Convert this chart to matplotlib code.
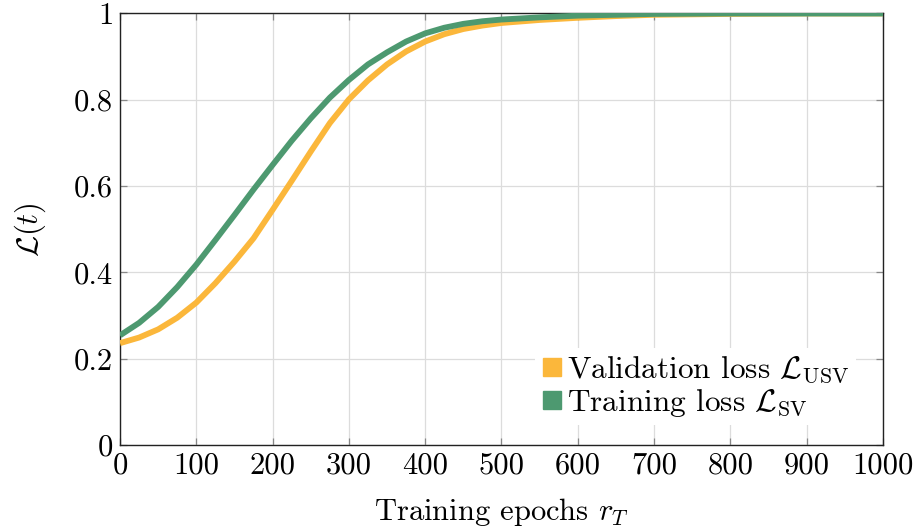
import matplotlib
matplotlib.use("Agg")
import matplotlib.pyplot as plt
from matplotlib.lines import Line2D

plt.rcParams['font.family'] = 'cmr10'
plt.rcParams['mathtext.fontset'] = 'cm'
plt.rcParams['axes.formatter.use_mathtext'] = True

epochs = [0, 25, 50, 75, 100, 125, 150, 175, 200, 225, 250, 275, 300, 325, 350, 375,
          400, 425, 450, 475, 500, 550, 600, 650, 700, 800, 900, 1000]
training_loss = [0.254, 0.283, 0.320, 0.366, 0.418, 0.475, 0.533, 0.592, 0.649, 0.705,
                 0.757, 0.805, 0.846, 0.882, 0.910, 0.935, 0.954, 0.967, 0.976, 0.982,
                 0.986, 0.991, 0.995, 0.997, 0.999, 1.0, 1.0, 1.0]
validation_loss = [0.236, 0.249, 0.268, 0.295, 0.330, 0.375, 0.425, 0.479, 0.545, 0.612,
                   0.680, 0.746, 0.801, 0.845, 0.882, 0.912, 0.935, 0.952, 0.964, 0.972,
                   0.978, 0.985, 0.990, 0.994, 0.997, 0.999, 1.0, 1.0]

xticks = [0, 100, 200, 300, 400, 500, 600, 700, 800, 900, 1000]
yticks = [0, 0.2, 0.4, 0.6, 0.8, 1.0]
yticklabels = ['0', '0.2', '0.4', '0.6', '0.8', '1']

yellow = '#FBB73B'
green = '#4D9970'

fig = plt.figure(figsize=(9.19, 5.29), dpi=100)
ax = fig.add_axes([0.1306, 0.1588, 0.8302, 0.8157])

ax.plot(epochs, validation_loss, color=yellow, lw=4.2, solid_capstyle='butt',
        solid_joinstyle='round', zorder=3)
ax.plot(epochs, training_loss, color=green, lw=4.2, solid_capstyle='butt',
        solid_joinstyle='round', zorder=4)

ax.set_xlim(0, 1000)
ax.set_ylim(0, 1)
ax.set_xticks(xticks)
ax.set_xticklabels([str(t) for t in xticks])
ax.set_yticks(yticks)
ax.set_yticklabels(yticklabels)
ax.grid(True, color='#dcdcdc', lw=0.9, zorder=0)
ax.set_axisbelow(True)
ax.tick_params(direction='in', length=5, width=0.9, color='#888888', top=True, right=True,
               labelsize=22, pad=5)
for s in ax.spines.values():
    s.set_linewidth(1.0)
    s.set_color('#222222')

ax.set_xlabel(r'Training epochs $r_T$', fontsize=22, labelpad=12)
ax.set_ylabel(r'$\mathcal{L}(t)$', fontsize=22, labelpad=19)

handles = [Line2D([], [], marker='s', ls='none', color=yellow, markersize=13),
           Line2D([], [], marker='s', ls='none', color=green, markersize=13)]
labels = [r'Validation loss $\mathcal{L}_{\mathrm{USV}}$', r'Training loss $\mathcal{L}_{\mathrm{SV}}$']
leg = ax.legend(handles, labels, loc='lower right', bbox_to_anchor=(0.985, 0.01), fontsize=22.5,
                frameon=True, framealpha=1, edgecolor='none', fancybox=False,
                handlelength=0.7, handletextpad=0.15, labelspacing=0.05, borderpad=0.2)

fig.savefig('out.png', dpi=100)
